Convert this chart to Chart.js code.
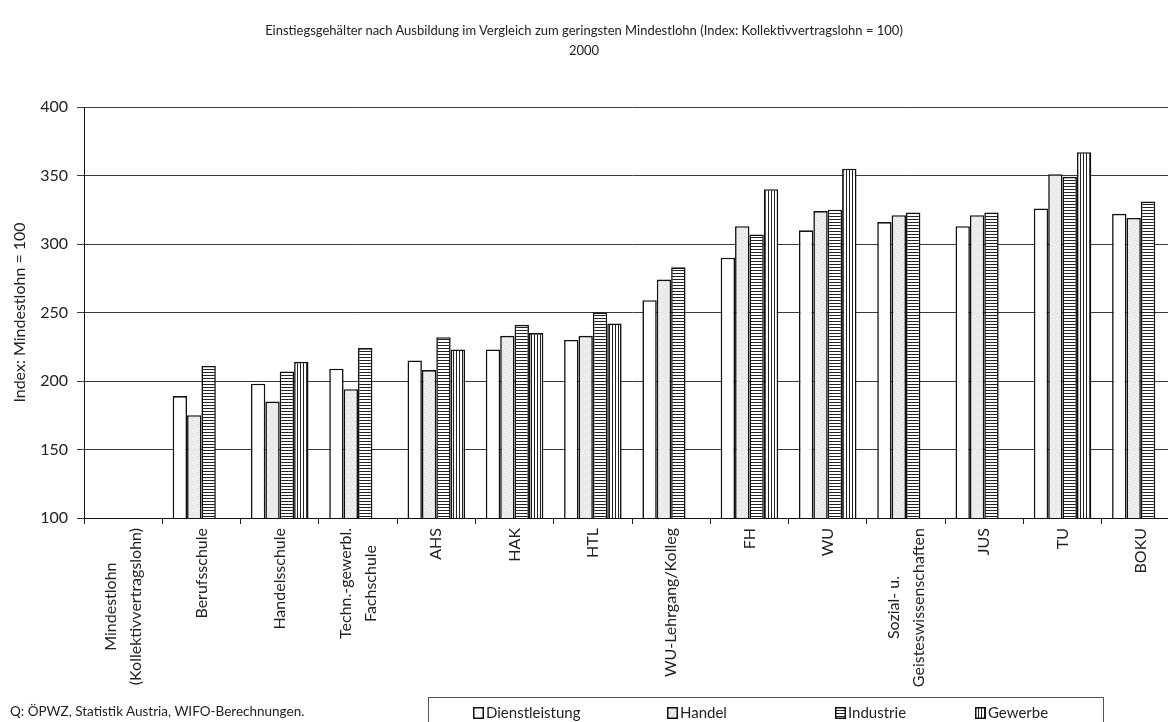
<!DOCTYPE html>
<html>
<head>
<meta charset="utf-8">
<script src="https://cdn.jsdelivr.net/npm/chart.js@4/dist/chart.umd.min.js"></script>
<style>
  html, body { margin: 0; padding: 0; background: #fff; overflow: hidden; }
  body { width: 1168px; height: 722px; position: relative; font-family: Lato, sans-serif; color: #222; }
  #wrap { position: absolute; left: 0; top: 0; width: 1184px; height: 722px; }
  .title { position: absolute; left: 0; width: 1168px; text-align: center; font-size: 13px; }
  #source { position: absolute; left: 10px; top: 703px; font-size: 13.5px; }
  #legend { position: absolute; left: 428px; top: 697px; width: 674px; height: 40px; border: 1px solid #555; background: #fff; }
  #legend .item { position: absolute; top: 7px; font-size: 15px; line-height: 15px; white-space: nowrap; }
  #legend canvas { vertical-align: -1px; margin-right: 2px; }
</style>
</head>
<body>
<div id="wrap"><canvas id="chart"></canvas></div>
<div class="title" style="top:22px">Einstiegsgehälter nach Ausbildung im Vergleich zum geringsten Mindestlohn (Index: Kollektivvertragslohn = 100)</div>
<div class="title" style="top:42px">2000</div>
<div id="source">Q: ÖPWZ, Statistik Austria, WIFO-Berechnungen.</div>
<div id="legend"></div>
<script>
// categories (multi-line labels as arrays)
var categories = [
  ['Mindestlohn', '(Kollektivvertragslohn)'],
  'Berufsschule',
  'Handelsschule',
  ['Techn.-gewerbl.', 'Fachschule'],
  'AHS',
  'HAK',
  'HTL',
  'WU-Lehrgang/Kolleg',
  'FH',
  'WU',
  ['Sozial- u.', 'Geisteswissenschaften'],
  'JUS',
  'TU',
  'BOKU'
];
var seriesNames = ['Dienstleistung', 'Handel', 'Industrie', 'Gewerbe'];
var dienstleistung = [100, 189, 198, 209, 215, 223, 230, 259, 290, 310, 316, 313, 326, 322];
var handel         = [100, 175, 185, 194, 208, 233, 233, 274, 313, 324, 321, 321, 351, 319];
var industrie      = [100, 211, 207, 224, 232, 241, 250, 283, 307, 325, 323, 323, 349, 331];
var gewerbe        = [100, null, 214, null, 223, 235, 242, null, 340, 355, null, null, 367, null];
var yTicks = [100, 150, 200, 250, 300, 350, 400];

// fill patterns
function makePattern(kind) {
  var c = document.createElement('canvas');
  var g = c.getContext('2d');
  if (kind == 'white') {
    c.width = c.height = 4;
    g.fillStyle = '#fff'; g.fillRect(0, 0, 4, 4);
  } else if (kind == 'speckle') {
    c.width = c.height = 8;
    g.fillStyle = '#ececec'; g.fillRect(0, 0, 8, 8);
    g.fillStyle = '#dcdcdc';
    [[1,1],[5,2],[3,5],[7,6],[0,4],[6,0]].forEach(function(p){ g.fillRect(p[0], p[1], 1, 1); });
    g.fillStyle = '#f7f7f7';
    [[2,3],[6,4],[4,7],[0,6]].forEach(function(p){ g.fillRect(p[0], p[1], 1, 1); });
  } else if (kind == 'hstripe') {
    c.width = c.height = 3;
    g.fillStyle = '#fff'; g.fillRect(0, 0, 3, 3);
    g.fillStyle = '#222'; g.fillRect(0, 0, 3, 1);
  } else {
    c.width = c.height = 3;
    g.fillStyle = '#fff'; g.fillRect(0, 0, 3, 3);
    g.fillStyle = '#222'; g.fillRect(0, 0, 1, 3);
  }
  return g.createPattern(c, 'repeat');
}
var kinds = ['white', 'speckle', 'hstripe', 'vstripe'];
var seriesData = [dienstleistung, handel, industrie, gewerbe];

// x labels drawn centred line by line, rotated
var xLabelPlugin = {
  id: 'xLabels',
  afterDraw: function(chart) {
    var ctx = chart.ctx, xs = chart.scales.x;
    ctx.save();
    ctx.font = '16px Lato';
    ctx.fillStyle = '#222';
    ctx.textAlign = 'center';
    ctx.textBaseline = 'middle';
    categories.forEach(function(lab, i) {
      var lines = [].concat(lab);
      var w = Math.max.apply(null, lines.map(function(l){ return ctx.measureText(l).width; }));
      ctx.save();
      ctx.translate(xs.getPixelForValue(i), xs.top + 10);
      ctx.rotate(-Math.PI / 2);
      lines.forEach(function(l, j) {
        ctx.fillText(l, -w / 2, (j - (lines.length - 1) / 2) * 25);
      });
      ctx.restore();
    });
    ctx.restore();
  }
};

var chart = new Chart(document.getElementById('chart'), {
  type: 'bar',
  data: {
    labels: categories,
    datasets: seriesNames.map(function(name, k) {
      return {
        label: name,
        data: seriesData[k],
        backgroundColor: makePattern(kinds[k]),
        borderColor: '#111',
        borderWidth: 1.6,
        borderSkipped: 'start',
        categoryPercentage: 0.735,
        barPercentage: 1
      };
    })
  },
  options: {
    responsive: true,
    maintainAspectRatio: false,
    animation: false,
    layout: { padding: { top: 107, right: 4, bottom: 4, left: 0 } },
    plugins: { legend: { display: false }, tooltip: { enabled: false }, title: { display: false } },
    scales: {
      x: {
        ticks: { display: false },
        grid: { drawOnChartArea: false, drawTicks: true, tickLength: 6, color: '#222', offset: true },
        border: { color: '#111', width: 1 },
        afterFit: function(s) { s.height = 200; }
      },
      y: {
        min: 100, max: 400,
        afterBuildTicks: function(s) { s.ticks = yTicks.map(function(v){ return { value: v }; }); },
        ticks: { font: { family: 'Lato', size: 16 }, color: '#222', padding: 9 },
        grid: { color: '#3a3a3a', lineWidth: 1, drawTicks: true, tickLength: 7 },
        border: { color: '#111', width: 1 },
        title: { display: true, text: 'Index: Mindestlohn = 100', font: { family: 'Lato', size: 16 }, color: '#222', padding: { top: 10, bottom: 0 } },
        afterFit: function(s) { s.width = 84; }
      }
    }
  },
  plugins: [xLabelPlugin]
});

// legend built from the dataset labels
var legend = document.getElementById('legend');
var legendX = [44, 238, 406, 546];
seriesNames.forEach(function(name, k) {
  var item = document.createElement('div');
  item.className = 'item';
  item.style.left = legendX[k] + 'px';
  var sw = document.createElement('canvas');
  sw.width = 11; sw.height = 12;
  var g = sw.getContext('2d');
  g.fillStyle = makePattern(kinds[k]);
  g.fillRect(0, 0, 11, 12);
  g.strokeStyle = '#111'; g.lineWidth = 1.5;
  g.strokeRect(0.75, 0.75, 9.5, 10.5);
  item.appendChild(sw);
  item.appendChild(document.createTextNode(name));
  legend.appendChild(item);
});
</script>
</body>
</html>
